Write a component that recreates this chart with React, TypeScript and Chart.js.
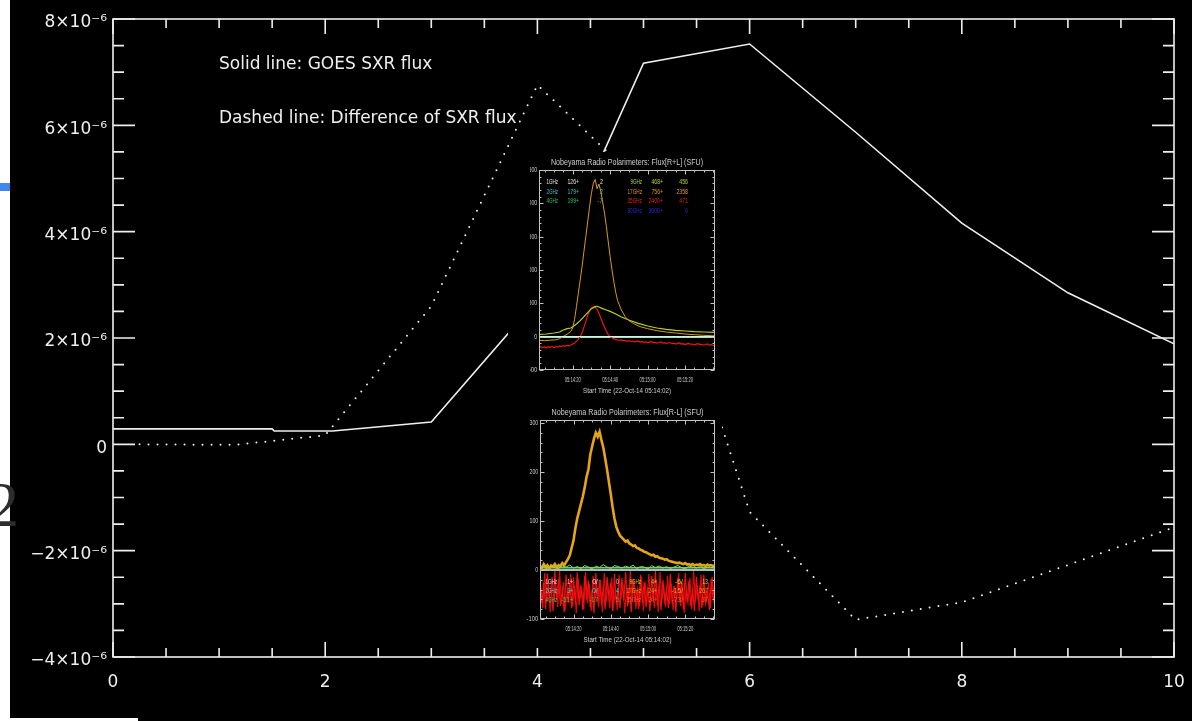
import React, { useEffect, useRef } from 'react';
import { Chart, registerables } from 'chart.js';

Chart.register(...registerables);

// ---- GOES soft X-ray flux (W m^-2) and its difference, against time index ----
const GOES_T = [0, 1.5, 1.52, 2.07, 3.0, 4.0, 5.0, 6.0, 7.0, 8.0, 9.0, 10.0];
const GOES_FLUX = [0.29e-6, 0.29e-6, 0.25e-6, 0.25e-6, 0.42e-6, 2.72e-6, 7.17e-6, 7.53e-6, 5.87e-6, 4.16e-6, 2.85e-6, 1.89e-6];

const DIFF_T = [0.25, 1.15, 2.0, 3.0, 4.0, 5.0, 6.0, 7.0, 8.0, 9.0, 10.0];
const DIFF_FLUX = [0.0, -0.01e-6, 0.17e-6, 2.6e-6, 6.76e-6, 4.85e-6, -1.27e-6, -3.3e-6, -2.97e-6, -2.27e-6, -1.56e-6];

const X_TICKS = [0, 2, 4, 6, 8, 10];
const Y_TICKS = [-4e-6, -2e-6, 0, 2e-6, 4e-6, 6e-6, 8e-6];
const Y_TICK_LABELS = ['\u22124\u00d710\u207b\u2076', '\u22122\u00d710\u207b\u2076', '0', '2\u00d710\u207b\u2076', '4\u00d710\u207b\u2076', '6\u00d710\u207b\u2076', '8\u00d710\u207b\u2076'];

const NOTE_LINES = ['Solid line: GOES SXR flux', 'Dashed line: Difference of SXR flux'];

// ---- Nobeyama Radio Polarimeters, seconds after 05:14:00 UT ----
const TIME_TICKS = [20, 40, 60, 80];
const TIME_TICK_LABELS = ['05:14:20', '05:14:40', '05:15:00', '05:15:20'];
const START_LABEL = 'Start Time (22-Oct-14 05:14:02)';

// Flux [R+L] (SFU)
const SUM_TITLE = 'Nobeyama Radio Polarimeters: Flux[R+L] (SFU)';
const SUM_Y_TICKS = [-500, 0, 500, 1000, 1500, 2000, 2500];

const SUM_17_T = [2, 5, 8, 11, 13, 15, 17, 19, 20, 21, 22, 23, 24, 25, 26, 27, 28, 29, 30, 31, 32, 33, 34, 35, 36, 37, 38, 39, 40, 41, 42, 43, 44, 46, 48, 50, 53, 56, 60, 65, 70, 75, 80, 85, 90, 96];
const SUM_17 = [-55, -60, -52, -48, -30, 5, 35, 80, 130, 260, 450, 650, 850, 1050, 1280, 1500, 1720, 1950, 2150, 2300, 2358, 2220, 2290, 2180, 2020, 1850, 1650, 1420, 1200, 1000, 820, 660, 540, 400, 300, 240, 190, 150, 120, 90, 70, 55, 40, 30, 20, 12];

const SUM_9_T = [2, 6, 10, 13, 15, 17, 19, 20, 22, 24, 26, 28, 30, 32, 33, 34, 36, 38, 40, 43, 46, 50, 55, 60, 65, 70, 75, 80, 85, 90, 96];
const SUM_9 = [35, 40, 55, 70, 100, 120, 130, 150, 190, 240, 300, 360, 420, 450, 456, 445, 420, 400, 380, 340, 295, 250, 200, 160, 130, 110, 95, 85, 75, 70, 65];

// 35 GHz, one sample per second from t = 2 s
const SUM_35 = [
  -160, -150, -165, -155, -170, -150, -160, -145, -165, -150, -158, -140, -150, -135, -145, -130, -138, -125,
  -110, -95, -70, -40, 0, 60, 140, 230, 320, 390, 430, 445, 440, 410, 350, 280, 210, 140, 80, 30, 0, -20, -30, -45, -50,
  -55, -48, -62, -58, -70, -60, -72, -66, -78, -70, -65, -80, -74, -85, -78, -90, -82, -76, -92, -85, -95, -88,
  -80, -98, -90, -102, -94, -88, -105, -98, -110, -100, -95, -112, -104, -118, -108, -100, -115, -110, -122, -112,
  -105, -120, -115, -128, -118, -110, -125, -120, -132, -125,
];

const LOW_T = [2, 96];
const SUM_1GHZ = [2, 2];
const SUM_2GHZ = [2, 2];
const SUM_4GHZ = [-7, -7];

const SUM_LEGEND_L = [['1GHz', '126+', '2'], ['2GHz', '179+', '2'], ['4GHz', '199+', '-7']];
const SUM_LEGEND_R = [['9GHz', '468+', '456'], ['17GHz', '756+', '2358'], ['35GHz', '2400+', '471'], ['80GHz', '9000+', '0']];

// Flux [R-L] (SFU)
const DIFF_TITLE = 'Nobeyama Radio Polarimeters: Flux[R-L] (SFU)';
const DIFF_Y_TICKS = [-100, 0, 100, 200, 300];

// 17 GHz, one sample per second from t = 2 s
const RL_17 = [
  8, 4, 12, 6, 10, 3, 9, 7, 12, 5, 10, 8, 14, 10, 16,
  22, 30, 45, 60, 85, 105, 120, 135, 150, 168, 190, 205, 235, 252, 268,
  280, 272, 282, 265, 250, 228, 205, 180, 155, 128, 105, 88, 78, 70, 66,
  62, 58, 60, 54, 52, 49, 50, 45, 44, 41, 40, 37, 36, 34, 32,
  30, 31, 27, 28, 25, 24, 23, 21, 22, 19, 18, 17, 16, 15, 14,
  15, 13, 12, 14, 11, 12, 10, 12, 9, 11, 10, 12, 9, 10, 8, 11, 9, 10, 8, 9,
];
// 35 GHz, two interleaved one-second streams (t = 2 s and t = 2.5 s onwards)
const RL_35 = [
  -12, -68, -25, -80, -8, -55, -35, -84, -2, -62, -18, -74, -42, -86, -10, -58, -28, -78, -15, -66,
  -5, -72, -30, -82, -12, -60, -22, -76, -40, -88, -6, -64, -20, -70, -34, -80, -14, -56, -26, -84,
  -8, -68, -38, -78, -16, -62, -4, -74, -30, -86, -18, -58, -44, -80, -10, -66, -24, -76, -36, -84,
  -12, -60, -2, -72, -28, -82, -20, -64, -40, -78, -8, -70, -32, -86, -16, -58, -26, -80, -6, -66,
  -22, -74, -38, -84, -14, -62, -30, -78, -10, -68, -44, -82, -18, -60, -24,
];
const RL_35_B = [
  -40, -78, -6, -66, -30, -86, -14, -60, -36, -76, -2, -70, -24, -82, -46, -64, -8, -74, -32, -88,
  -18, -58, -42, -80, -4, -68, -28, -84, -12, -62, -38, -76, -20, -86, -6, -66, -34, -78, -16, -72,
  -44, -82, -10, -60, -26, -88, -36, -70, -2, -64, -22, -80, -40, -74, -14, -84, -30, -58, -8, -68,
  -46, -78, -20, -86, -4, -62, -34, -76, -12, -70, -28, -82, -42, -60, -6, -74, -24, -88, -38, -66,
  -16, -80, -2, -64, -32, -84, -10, -72, -40, -58, -26, -78, -14, -68, -36,
];
// 9 GHz, one sample every two seconds from t = 2 s
const RL_9 = [4, 7, 2, 9, 5, 3, 8, 6, 10, 4, 7, 3, 9, 6, 2, 8, 5, 11, 6, 3, 9, 7, 4, 8, 5, 10, 3, 7, 6, 2, 9, 5, 8, 4, 7, 3, 6, 9, 5, 2, 8, 6, 4, 7, 3, 6, 5, 4];
const RL_1GHZ = [0, 0];
const RL_2GHZ = [4, 4];
const RL_4GHZ = [5, 5];

const DIFF_LEGEND_L = [['1GHz', '1+', '0/', '0'], ['2GHz', '3+', '0/', '4'], ['4GHz', '-51+', '-17', '5']];
const DIFF_LEGEND_R = [['9GHz', '4+', '-6/', '13'], ['17GHz', '24+', '-15/', '267'], ['35GHz', '24+', '-73/', '37']];

// ---------------------------------------------------------------------------

const FONT = '"DejaVu Sans", Verdana, sans-serif';
const SMALL_FONT = '"Liberation Sans", Arial, sans-serif';
const INK = '#efefef';

const toPoints = (t: number[], v: number[]) => t.map((x, i) => ({ x, y: v[i] }));
const sampled = (t0: number, dt: number, v: number[]) => v.map((y, i) => ({ x: t0 + i * dt, y }));

const mainFrame = {
  id: 'mainFrame',
  beforeDraw(chart: any) {
    const ctx = chart.ctx;
    ctx.save();
    ctx.fillStyle = '#000';
    ctx.fillRect(10, 0, 1182, 718);
    ctx.fillRect(138, 718, 1054, 3);
    ctx.restore();
  },
  afterDraw(chart: any) {
    const { ctx, chartArea: a } = chart;
    const xs = chart.scales.x;
    const ys = chart.scales.y;
    ctx.save();
    ctx.strokeStyle = INK;
    ctx.lineWidth = 1.6;
    ctx.strokeRect(a.left, a.top, a.right - a.left, a.bottom - a.top);
    ctx.beginPath();
    for (let i = 0; i <= 20; i++) {
      const px = xs.getPixelForValue(i * 0.5);
      const len = i % 4 === 0 ? 15 : 9;
      ctx.moveTo(px, a.bottom);
      ctx.lineTo(px, a.bottom - len);
      ctx.moveTo(px, a.top);
      ctx.lineTo(px, a.top + len);
    }
    for (let i = 0; i <= 24; i++) {
      const py = ys.getPixelForValue(-4e-6 + i * 0.5e-6);
      const len = i % 4 === 0 ? 22 : 11;
      ctx.moveTo(a.left, py);
      ctx.lineTo(a.left + len, py);
      ctx.moveTo(a.right, py);
      ctx.lineTo(a.right - len, py);
    }
    ctx.stroke();
    ctx.fillStyle = INK;
    ctx.font = `17px ${FONT}`;
    ctx.textBaseline = 'middle';
    ctx.textAlign = 'left';
    ctx.fillText(NOTE_LINES[0], 219, 65);
    ctx.fillText(NOTE_LINES[1], 219, 119);
    ctx.restore();
  },
};

type Trace = { data: { x: number; y: number }[]; color: string; width: number };
type LegendGroup = { rows: string[][]; colors: string[]; anchors: number[]; ys: number[] };

type InsetProps = {
  left: number;
  top: number;
  width: number;
  height: number;
  pad: { left: number; right: number; top: number; bottom: number };
  yMin: number;
  yMax: number;
  yTicks: number[];
  yMinor: number;
  yMajor: number;
  title: string;
  traces: Trace[];
  legend: LegendGroup[];
};

function InsetPlot(p: InsetProps) {
  const ref = useRef<HTMLCanvasElement>(null);
  useEffect(() => {
    const frame = {
      id: 'insetFrame',
      beforeDraw(chart: any) {
        const ctx = chart.ctx;
        ctx.save();
        ctx.fillStyle = '#000';
        ctx.fillRect(0, 0, chart.width, chart.height);
        ctx.restore();
      },
      afterDraw(chart: any) {
        const { ctx, chartArea: a } = chart;
        const xs = chart.scales.x;
        const ys = chart.scales.y;
        const L = Math.round(a.left) + 0.5;
        const R = Math.round(a.right) - 0.5;
        const T = Math.round(a.top) + 0.5;
        const B = Math.round(a.bottom) - 0.5;
        ctx.save();
        ctx.strokeStyle = '#c2c2c2';
        ctx.lineWidth = 1;
        ctx.strokeRect(L, T, R - L, B - T);
        ctx.beginPath();
        for (let t = 5; t <= 95; t += 5) {
          const px = Math.round(xs.getPixelForValue(t)) + 0.5;
          const len = t % 20 === 0 ? 4 : 2;
          ctx.moveTo(px, B);
          ctx.lineTo(px, B - len);
          ctx.moveTo(px, T);
          ctx.lineTo(px, T + len);
        }
        for (let v = p.yMin; v <= p.yMax; v += p.yMinor) {
          const py = Math.round(ys.getPixelForValue(v)) + 0.5;
          const len = v % p.yMajor === 0 ? 4 : 2;
          ctx.moveTo(L, py);
          ctx.lineTo(L + len, py);
          ctx.moveTo(R, py);
          ctx.lineTo(R - len, py);
        }
        ctx.stroke();

        ctx.fillStyle = '#cdcdcd';
        ctx.textBaseline = 'middle';
        // y tick labels
        ctx.font = `7px ${SMALL_FONT}`;
        ctx.textAlign = 'right';
        p.yTicks.forEach((v) => {
          const s = String(v);
          ctx.fillText(s, a.left - 1.8, ys.getPixelForValue(v), s.length * 2.9);
        });
        // time tick labels
        ctx.textAlign = 'center';
        TIME_TICKS.forEach((t, i) => {
          ctx.fillText(TIME_TICK_LABELS[i], xs.getPixelForValue(t), a.bottom + 10, 16);
        });
        ctx.fillText(START_LABEL, (a.left + a.right) / 2, a.bottom + 21, 88);
        // title
        ctx.font = `9px ${SMALL_FONT}`;
        ctx.fillText(p.title, (a.left + a.right) / 2, a.top - 7.5, 152);
        // channel legend
        ctx.font = `7px ${SMALL_FONT}`;
        ctx.textAlign = 'right';
        p.legend.forEach((g) => {
          g.rows.forEach((row, r) => {
            ctx.fillStyle = g.colors[r];
            row.forEach((txt, c) => {
              ctx.fillText(txt, g.anchors[c] - p.left, g.ys[r] - p.top, txt.length * 2.9);
            });
          });
        });
        ctx.restore();
      },
    };
    const chart = new Chart(ref.current as HTMLCanvasElement, {
      type: 'line',
      data: {
        datasets: p.traces.map((tr) => ({
          data: tr.data,
          borderColor: tr.color,
          borderWidth: tr.width,
          pointRadius: 0,
          tension: 0,
          fill: false,
        })),
      },
      options: {
        animation: false,
        responsive: false,
        devicePixelRatio: 1,
        layout: { padding: p.pad },
        plugins: { legend: { display: false }, tooltip: { enabled: false } },
        scales: {
          x: { type: 'linear', display: false, min: 2, max: 96 },
          y: { type: 'linear', display: false, min: p.yMin, max: p.yMax },
        },
      },
      plugins: [frame],
    } as any);
    return () => chart.destroy();
  }, []);
  return (
    <canvas
      ref={ref}
      width={p.width}
      height={p.height}
      style={{ position: 'absolute', left: p.left, top: p.top, width: p.width, height: p.height, display: 'block' }}
    />
  );
}

export default function App() {
  const mainRef = useRef<HTMLCanvasElement>(null);

  useEffect(() => {
    const chart = new Chart(mainRef.current as HTMLCanvasElement, {
      type: 'line',
      data: {
        datasets: [
          {
            label: 'GOES SXR flux',
            data: toPoints(GOES_T, GOES_FLUX),
            borderColor: INK,
            borderWidth: 1.6,
            pointRadius: 0,
            tension: 0,
          },
          {
            label: 'Difference of SXR flux',
            data: toPoints(DIFF_T, DIFF_FLUX),
            borderColor: INK,
            borderWidth: 2,
            borderDash: [0, 9],
            borderCapStyle: 'round',
            pointRadius: 0,
            tension: 0,
          },
        ],
      },
      options: {
        animation: false,
        responsive: false,
        devicePixelRatio: 1,
        layout: { padding: { left: 0, top: 19, right: 18, bottom: 0 } },
        plugins: { legend: { display: false }, tooltip: { enabled: false } },
        scales: {
          x: {
            type: 'linear',
            min: 0,
            max: 10,
            grid: { display: false, drawTicks: false },
            border: { display: false },
            afterBuildTicks: (s: any) => {
              s.ticks = X_TICKS.map((value) => ({ value }));
            },
            afterFit: (s: any) => {
              s.height = 64;
              s.paddingLeft = 0;
              s.paddingRight = 0;
            },
            ticks: {
              color: INK,
              font: { family: FONT, size: 17 },
              padding: 15,
              maxRotation: 0,
              autoSkip: false,
              callback: (v: any) => String(v),
            },
          },
          y: {
            type: 'linear',
            min: -4e-6,
            max: 8e-6,
            grid: { display: false, drawTicks: false },
            border: { display: false },
            afterBuildTicks: (s: any) => {
              s.ticks = Y_TICKS.map((value) => ({ value }));
            },
            afterFit: (s: any) => {
              s.width = 113;
              s.paddingTop = 0;
              s.paddingBottom = 0;
            },
            ticks: {
              color: INK,
              font: { family: FONT, size: 17 },
              padding: 6,
              labelOffset: 4,
              autoSkip: false,
              callback: (v: any) => Y_TICK_LABELS[Y_TICKS.indexOf(v)],
            },
          },
        },
      },
      plugins: [mainFrame],
    } as any);
    return () => chart.destroy();
  }, []);

  const sumTraces: Trace[] = [
    { data: toPoints(LOW_T, SUM_1GHZ), color: '#e8e8e8', width: 1 },
    { data: toPoints(LOW_T, SUM_2GHZ), color: '#40d0d0', width: 1 },
    { data: toPoints(SUM_17_T, SUM_17), color: '#d9991c', width: 1 },
    { data: toPoints(SUM_9_T, SUM_9), color: '#b5d41e', width: 1.2 },
    { data: sampled(2, 1, SUM_35), color: '#f01414', width: 1.2 },
    { data: toPoints(LOW_T, SUM_4GHZ), color: '#98e6b4', width: 1.6 },
  ];

  const diffTraces: Trace[] = [
    { data: sampled(2, 1, RL_35), color: '#f01010', width: 1.2 },
    { data: sampled(2.5, 1, RL_35_B), color: '#e00808', width: 1.2 },
    { data: sampled(2, 2, RL_9), color: '#a8d820', width: 1 },
    { data: sampled(2, 1, RL_17), color: '#e6a41a', width: 2.6 },
    { data: toPoints(LOW_T, RL_4GHZ), color: '#40e070', width: 1 },
    { data: toPoints(LOW_T, RL_2GHZ), color: '#60e0e0', width: 1 },
    { data: toPoints(LOW_T, RL_1GHZ), color: '#e6fff4', width: 1.6 },
  ];

  return (
    <div style={{ position: 'fixed', left: 0, top: 0, width: 1192, height: 721, background: '#fff', overflow: 'hidden' }}>
      <canvas ref={mainRef} width={1192} height={721} style={{ position: 'absolute', left: 0, top: 0, display: 'block' }} />
      <div style={{ position: 'absolute', left: 508, top: 152, width: 22, height: 250, background: '#000' }} />
      <InsetPlot
        left={530}
        top={152}
        width={192}
        height={250}
        pad={{ left: 9, right: 7, top: 18, bottom: 32 }}
        yMin={-500}
        yMax={2500}
        yTicks={SUM_Y_TICKS}
        yMinor={100}
        yMajor={500}
        title={SUM_TITLE}
        traces={sumTraces}
        legend={[
          { rows: SUM_LEGEND_L, colors: ['#e6e6e6', '#30c8c8', '#2fbf6c'], anchors: [558, 579, 603], ys: [182.3, 191.7, 201] },
          { rows: SUM_LEGEND_R, colors: ['#b8d420', '#dc9c1c', '#e02020', '#2a2ad0'], anchors: [642, 663, 688], ys: [182.3, 191.7, 201, 211] },
        ]}
      />
      <InsetPlot
        left={515}
        top={402}
        width={207}
        height={246}
        pad={{ left: 25, right: 7, top: 18, bottom: 29 }}
        yMin={-100}
        yMax={306}
        yTicks={DIFF_Y_TICKS}
        yMinor={20}
        yMajor={100}
        title={DIFF_TITLE}
        traces={diffTraces}
        legend={[
          { rows: DIFF_LEGEND_L, colors: ['#f2d6d6', '#40d8d8', '#3cc864'], anchors: [557, 573, 598, 619], ys: [581.7, 591, 600] },
          { rows: DIFF_LEGEND_R, colors: ['#d8cc20', '#e8a020', '#ff5a30'], anchors: [641, 657, 683, 708], ys: [581.7, 591, 600] },
        ]}
      />
      <div style={{ position: 'absolute', left: 0, top: 183, width: 10, height: 8, background: '#3f86f0' }} />
      <div
        style={{
          position: 'absolute',
          left: -13,
          top: 473,
          fontFamily: '"Liberation Serif", serif',
          fontSize: 64,
          lineHeight: '64px',
          color: '#2d2d2d',
        }}
      >
        2
      </div>
    </div>
  );
}
